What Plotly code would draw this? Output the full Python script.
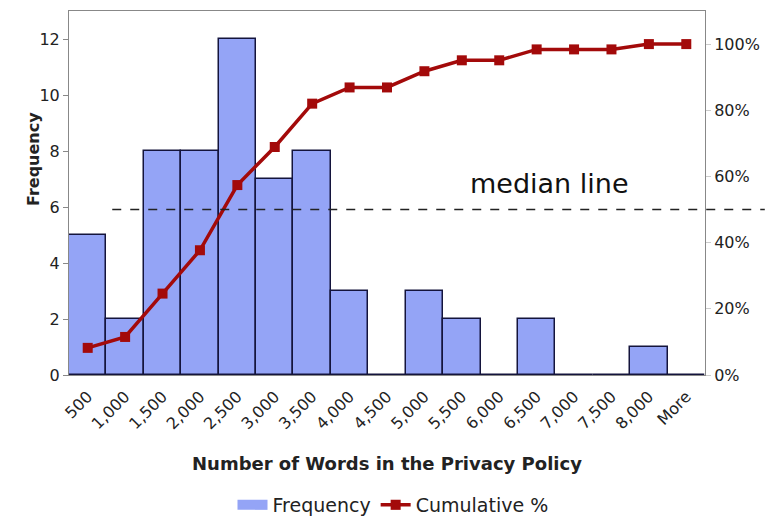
import plotly.graph_objects as go

categories = ["500", "1,000", "1,500", "2,000", "2,500", "3,000", "3,500", "4,000", "4,500",
              "5,000", "5,500", "6,000", "6,500", "7,000", "7,500", "8,000", "More"]
frequency = [5, 2, 8, 8, 12, 7, 8, 3, 0, 3, 2, 0, 2, 0, 0, 1, 0]
cumulative_pct = [8.2, 11.5, 24.6, 37.7, 57.4, 68.9, 82.0, 86.9, 86.9, 91.8, 95.1, 95.1,
                  98.4, 98.4, 98.4, 100.0, 100.0]
median_pct = 50
left_ticks = [0, 2, 4, 6, 8, 10, 12]
right_ticks = [0, 20, 40, 60, 80, 100]
right_labels = [f"{v}%" for v in right_ticks]

FONT = "DejaVu Sans"
BAR_COLOR = "#94a4f6"
LINE_COLOR = "#a30a0a"
fig = go.Figure()
fig.add_trace(go.Bar(
    x=categories, y=frequency, name="Frequency", showlegend=False,
    marker=dict(color=BAR_COLOR, line=dict(color="#14143c", width=1.5)),
    yaxis="y",
))
# legend swatch for the bars (wide rectangle, as in the reference)
fig.add_trace(go.Scatter(
    x=[None], y=[None], name="Frequency", mode="lines",
    line=dict(color=BAR_COLOR, width=12), yaxis="y",
))
fig.add_trace(go.Scatter(
    x=categories, y=cumulative_pct, name="Cumulative %", mode="lines+markers",
    line=dict(color=LINE_COLOR, width=3.5),
    marker=dict(symbol="square", size=10, color=LINE_COLOR),
    yaxis="y2",
))

fig.add_shape(type="line", xref="paper", yref="y2", x0=0.068, x1=1.094,
              y0=median_pct, y1=median_pct,
              line=dict(color="#222222", width=1.5, dash="dash"))
fig.add_annotation(text="median line", xref="paper", yref="y2", x=(549 - 69) / 636, y=58,
                   xanchor="center", yanchor="middle",
                   showarrow=False, font=dict(family=FONT, size=27, color="#111111"))
fig.add_annotation(text="<b>Number of Words in the Privacy Policy</b>", xref="paper", yref="paper",
                   x=(387 - 69) / 636, y=(375 - 463) / 364, xanchor="center", yanchor="middle",
                   showarrow=False, font=dict(family=FONT, size=18, color="#222222"))
fig.add_annotation(text="<b>Frequency</b>", xref="paper", yref="paper", textangle=-90,
                   x=(33 - 69) / 636, y=(375 - 159) / 364, xanchor="center", yanchor="middle",
                   showarrow=False, font=dict(family=FONT, size=16, color="#222222"))

fig.update_layout(
    width=774, height=516,
    margin=dict(l=69, r=69, t=11, b=141, autoexpand=False),
    paper_bgcolor="white", plot_bgcolor="white",
    bargap=0,
    font=dict(family=FONT, size=15, color="#222222"),
    showlegend=True,
    legend=dict(orientation="h", x=(393 - 69) / 636, xanchor="center", y=(375 - 505) / 364,
                yanchor="middle", font=dict(family=FONT, size=19, color="#222222"),
                traceorder="normal"),
    xaxis=dict(range=[-0.5, len(categories) - 0.5], tickangle=-45, showgrid=False,
               showline=True, linecolor="#888888", linewidth=1,
               mirror=True, automargin=False, ticks="outside", ticklen=5, tickcolor="white",
               tickfont=dict(family=FONT, size=16, color="#222222")),
    yaxis=dict(range=[0, 13], tickvals=left_ticks, showgrid=False, showline=True,
               linecolor="#888888", linewidth=1, ticks="outside", ticklen=5, tickcolor="#888888",
               zeroline=False, automargin=False,
               tickfont=dict(family=FONT, size=16, color="#222222")),
    yaxis2=dict(range=[0, 110], tickvals=right_ticks, ticktext=right_labels, overlaying="y",
                side="right", showgrid=False, showline=True, linecolor="#888888", linewidth=1,
                ticks="outside", ticklen=5, tickcolor="#cccccc", zeroline=False, automargin=False,
                tickfont=dict(family=FONT, size=16, color="#222222")),
)

fig.write_html("out.html")
